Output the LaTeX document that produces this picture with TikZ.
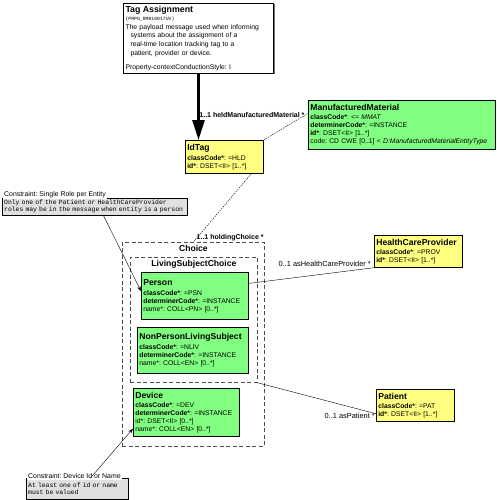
\documentclass[tikz,border=0pt]{standalone}
\usepackage{fontspec}
\setmainfont{Liberation Sans}
\setmonofont{Liberation Mono}
\usetikzlibrary{arrows.meta,shadows}
\definecolor{clsgreen}{RGB}{128,255,128}
\definecolor{clsyellow}{RGB}{255,255,128}
\definecolor{notegray}{RGB}{224,224,224}
\newcommand{\attr}[2]{\textbf{#1}: #2}
\newcommand{\cname}[1]{{\fontsize{8.6}{10}\selectfont\textbf{#1}}}
\frenchspacing

\begin{document}
\begin{tikzpicture}[x=1pt, y=-1pt,
  every node/.style={font=\fontsize{6.8}{8}\selectfont},
  classbox/.style={draw, line width=0.7pt, anchor=north west, align=left, inner sep=2pt,
    drop shadow={shadow xshift=1pt, shadow yshift=-1pt, fill=black!80, opacity=0.7}},
  notebox/.style={draw, thin, fill=notegray, anchor=north west, align=left, inner sep=2pt,
    font=\ttfamily\fontsize{6.4}{7}\selectfont,
    drop shadow={shadow xshift=1pt, shadow yshift=-1pt, fill=black!50, opacity=0.6}},
  notetitle/.style={anchor=west, fill=white, inner sep=1pt, font=\fontsize{6.9}{7}\selectfont},
  choicebox/.style={draw=black!70, line width=0.8pt, dash pattern=on 4pt off 2.5pt, anchor=north west},
  choicetitle/.style={anchor=north, inner sep=3pt, font=\fontsize{8.6}{10}\selectfont\bfseries},
  assoc/.style={draw, thin, dash pattern=on 1.5pt off 1pt},
  rolelink/.style={draw, thin}]

\useasboundingbox (0,0) rectangle (496,500);

\node[classbox, fill=white, line width=1pt, text width=146pt, minimum height=70pt, font=\fontsize{6.8}{8.6}\selectfont] (tag) at (123,3)
  {{\fontsize{8.8}{10}\selectfont\textbf{Tag Assignment}}\\
   {\ttfamily\fontsize{4.8}{6.5}\selectfont (PRPG\_RM010017UV)}\\
   The payload message used when informing\\
   \hspace*{5pt}systems about the assignment of a\\
   \hspace*{5pt}real-time location tracking tag to a\\
   \hspace*{5pt}patient, provider or device.\\[6pt]
   Property-contextConductionStyle: I};

\node[classbox, fill=clsyellow, text width=74pt, minimum height=33pt] (idtag) at (185,140)
  {\cname{IdTag}\\[2pt]
   \attr{classCode*}{=HLD}\\
   \attr{id*}{DSET<II> [1..*]}};

\node[classbox, fill=clsgreen, text width=183pt, minimum height=49pt] (mm) at (308,100)
  {\cname{ManufacturedMaterial}\\[1pt]
   \attr{classCode*}{<= \textit{MMAT}}\\
   \attr{determinerCode*}{=INSTANCE}\\
   \attr{id*}{DSET<II> [1..*]}\\
   code: CD CWE [0..1] < \textit{D:ManufacturedMaterialEntityType}};

\node[classbox, fill=clsyellow, text width=84pt, minimum height=32pt] (hcp) at (374,235)
  {\cname{HealthCareProvider}\\[1pt]
   \attr{classCode*}{=PROV}\\
   \attr{id*}{DSET<II> [1..*]}};

\node[classbox, fill=clsyellow, text width=74pt, minimum height=32pt] (patient) at (376,389)
  {\cname{Patient}\\[1pt]
   \attr{classCode*}{=PAT}\\
   \attr{id*}{DSET<II> [1..*]}};

\node[choicebox, minimum width=142pt, minimum height=204pt] (choice) at (122,242) {};
\node[choicetitle] (choicename) at (choice.north) {Choice};
\node[choicebox, minimum width=127pt, minimum height=125pt] (lsc) at (130,257) {};
\node[choicetitle] (lscname) at (lsc.north) {LivingSubjectChoice};

\node[classbox, fill=clsgreen, text width=103pt, minimum height=47pt] (person) at (141,272)
  {\cname{Person}\\[2pt]
   \attr{classCode*}{=PSN}\\
   \attr{determinerCode*}{=INSTANCE}\\
   name*: COLL<PN> [0..*]};

\node[classbox, fill=clsgreen, text width=107pt, minimum height=46pt] (npls) at (137,327)
  {\cname{NonPersonLivingSubject}\\[2pt]
   \attr{classCode*}{=NLIV}\\
   \attr{determinerCode*}{=INSTANCE}\\
   name*: COLL<EN> [0..*]};

\node[classbox, fill=clsgreen, text width=102pt, minimum height=48pt] (device) at (133,388)
  {\cname{Device}\\[1pt]
   \attr{classCode*}{=DEV}\\
   \attr{determinerCode*}{=INSTANCE}\\
   id*: DSET<II> [0..*]\\
   name*: COLL<EN> [0..*]};

\node[notebox, text width=181pt, minimum height=17pt] (c1) at (2,198)
  {Only one of the Patient or HealthCareProvider\\
   roles may be in the message when entity is a person};
\node[notetitle] (c1title) at ([xshift=1pt, yshift=3pt]c1.north west) {Constraint: Single Role per Entity};

\node[notebox, text width=98pt, minimum height=21pt] (c2) at (26,478)
  {At least one of id or name\\
   must be valued};
\node[notetitle] (c2title) at ([xshift=1pt, yshift=2pt]c2.north west) {Constraint: Device Id or Name};

\draw[line width=3pt, -{Triangle[length=20pt, width=12pt]}] (tag.south) -- (tag.south |- idtag.north);

\draw[assoc] (idtag.north east) -- (mm.173) node[anchor=east, yshift=-2pt, font=\fontsize{7}{8}\selectfont\bfseries]{1..1 heldManufacturedMaterial *};
\draw[assoc] (idtag.-32) -- (choice.north);
\node[anchor=south east, inner sep=1pt, font=\fontsize{7}{8}\selectfont\bfseries] (holdlabel) at (choice.north east) {1..1 holdingChoice *};

\draw[rolelink] (person.13) -- (hcp.south west) node[anchor=south east, xshift=-2pt, inner sep=1pt, font=\fontsize{7.4}{8}\selectfont]{0..1 asHealthCareProvider *};
\draw[rolelink] (lsc.south east) -- (patient.192) node[anchor=east, yshift=-2pt, inner sep=1pt, font=\fontsize{7.4}{8}\selectfont]{0..1 asPatient *};

\draw[thin, -{Stealth[length=5pt, width=3.5pt]}] (c1.-45) -- (person.175);
\draw[thin, -{Stealth[length=5pt, width=3.5pt]}] (c2.39) -- (device.197);

\end{tikzpicture}
\end{document}
